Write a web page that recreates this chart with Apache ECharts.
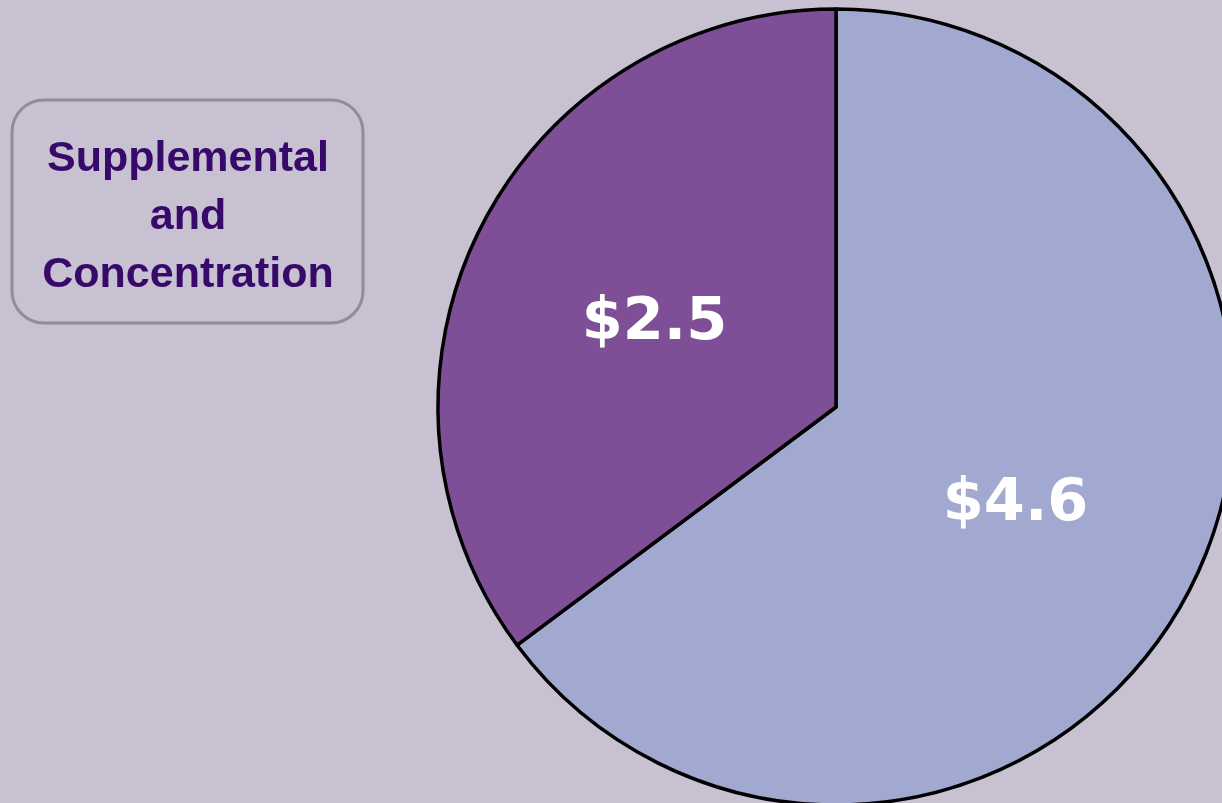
<!DOCTYPE html>
<html>
<head>
<meta charset="utf-8">
<script src="https://cdn.jsdelivr.net/npm/echarts@6/dist/echarts.min.js"></script>
<style>
  html, body { margin: 0; padding: 0; background: #C8C1D2; }
  #chart { width: 1222px; height: 803px; }
</style>
</head>
<body>
<div id="chart"></div>
<script>
// slices, clockwise from 12 o'clock
const names = ['Other', 'Supplemental and Concentration'];
const values = [4.6, 2.5];
const colors = ['#A2A9D0', '#7E4F96'];
const boxLines = ['Supplemental', 'and', 'Concentration'];

const chart = echarts.init(document.getElementById('chart'));

chart.setOption({
    backgroundColor: '#C8C1D2',
    animation: false,
    graphic: [
        {
            type: 'rect',
            shape: { x: 12, y: 100, width: 351, height: 223, r: 32 },
            style: { fill: '#C8C1D2', stroke: '#928B9E', lineWidth: 3 }
        },
        {
            type: 'text',
            x: 188,
            y: 130,
            style: {
                text: boxLines.join('\n'),
                fill: '#36096A',
                font: 'bold 43px "Liberation Sans", Arial, sans-serif',
                lineHeight: 58,
                align: 'center',
                verticalAlign: 'top'
            }
        }
    ],
    series: [{
        type: 'pie',
        center: [836, 407],
        radius: 398,
        startAngle: 90,
        clockwise: true,
        silent: true,
        itemStyle: { borderColor: '#000', borderWidth: 3.5 },
        label: {
            position: 'inside',
            formatter: p => '$' + p.value.toFixed(1),
            color: '#fff',
            fontSize: 59,
            fontWeight: 'bold',
            fontFamily: '"DejaVu Sans", sans-serif',
            offset: [-1, 7]
        },
        labelLine: { show: false },
        data: values.map((v, i) => ({
            name: names[i],
            value: v,
            itemStyle: { color: colors[i] }
        }))
    }]
});
</script>
</body>
</html>
